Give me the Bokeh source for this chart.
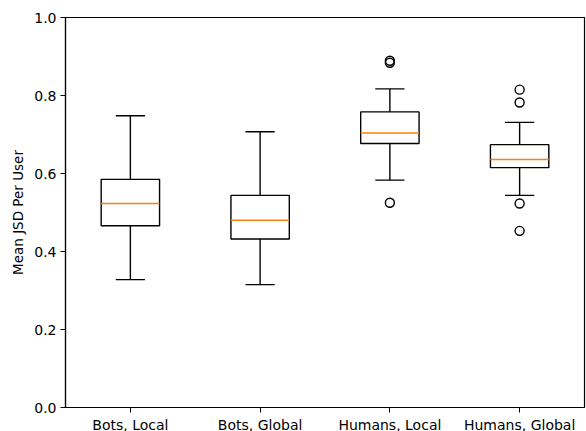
from bokeh.plotting import figure
from bokeh.models import FixedTicker, Range1d, ColumnDataSource
from bokeh.embed import file_html
from bokeh.resources import INLINE

categories = ["Bots, Local", "Bots, Global", "Humans, Local", "Humans, Global"]
whisker_low = [0.328, 0.315, 0.583, 0.544]
q1 = [0.466, 0.432, 0.677, 0.615]
median = [0.523, 0.480, 0.704, 0.636]
q3 = [0.585, 0.544, 0.758, 0.674]
whisker_high = [0.748, 0.707, 0.817, 0.731]
outlier_group = [3, 3, 3, 4, 4, 4, 4]
outlier_value = [0.889, 0.884, 0.525, 0.815, 0.782, 0.523, 0.453]
y_ticks = [0.0, 0.2, 0.4, 0.6, 0.8, 1.0]

box_width = 0.45
positions = list(range(1, len(categories) + 1))
left = [p - box_width / 2 for p in positions]
right = [p + box_width / 2 for p in positions]
cap_left = [p - box_width / 4 for p in positions]
cap_right = [p + box_width / 4 for p in positions]

src = ColumnDataSource(dict(x=positions, q1=q1, q3=q3, med=median, lo=whisker_low, hi=whisker_high,
                            left=left, right=right, cl=cap_left, cr=cap_right))

p = figure(frame_width=519, frame_height=390, output_backend="svg", toolbar_location=None,
           x_range=Range1d(0.5, 4.5), y_range=Range1d(0, 1.0),
           min_border_left=65, min_border_top=17, min_border_right=2, min_border_bottom=10)

lw = 1.4
# whiskers
p.segment(x0="x", y0="q3", x1="x", y1="hi", source=src, line_color="black", line_width=lw)
p.segment(x0="x", y0="q1", x1="x", y1="lo", source=src, line_color="black", line_width=lw)
# caps
p.segment(x0="cl", y0="hi", x1="cr", y1="hi", source=src, line_color="black", line_width=lw)
p.segment(x0="cl", y0="lo", x1="cr", y1="lo", source=src, line_color="black", line_width=lw)
# boxes
p.quad(left="left", right="right", bottom="q1", top="q3", source=src,
       fill_color="white", line_color="black", line_width=lw)
# medians
p.segment(x0="left", y0="med", x1="right", y1="med", source=src, line_color="#ff7f0e", line_width=lw)
# outliers
p.scatter(x=outlier_group, y=outlier_value, marker="circle", size=9, fill_color=None,
          line_color="black", line_width=lw)

p.xgrid.visible = False
p.ygrid.visible = False
p.outline_line_color = "black"
p.outline_line_width = 1.2

p.xaxis.ticker = FixedTicker(ticks=positions)
p.xaxis.major_label_overrides = {pos: c for pos, c in zip(positions, categories)}
p.yaxis.ticker = FixedTicker(ticks=y_ticks)
p.yaxis.major_label_overrides = {t: f"{t:.1f}" for t in y_ticks}
p.yaxis.axis_label = "Mean JSD Per User"

for ax in (p.xaxis, p.yaxis):
    ax.axis_line_color = "black"
    ax.axis_line_width = 1.2
    ax.major_tick_out = 5
    ax.major_tick_in = 0
    ax.major_tick_line_color = "black"
    ax.minor_tick_line_color = None
    ax.major_label_text_font = "DejaVu Sans"
    ax.major_label_text_font_size = "14px"
    ax.major_label_text_color = "black"
    ax.axis_label_text_font = "DejaVu Sans"
    ax.axis_label_text_font_size = "13.5px"
    ax.axis_label_text_font_style = "normal"
    ax.axis_label_text_color = "black"
p.xaxis.major_label_standoff = 4
p.yaxis.major_label_standoff = 4
p.yaxis.axis_label_standoff = 5

open("out.html", "w").write(file_html(p, INLINE))
